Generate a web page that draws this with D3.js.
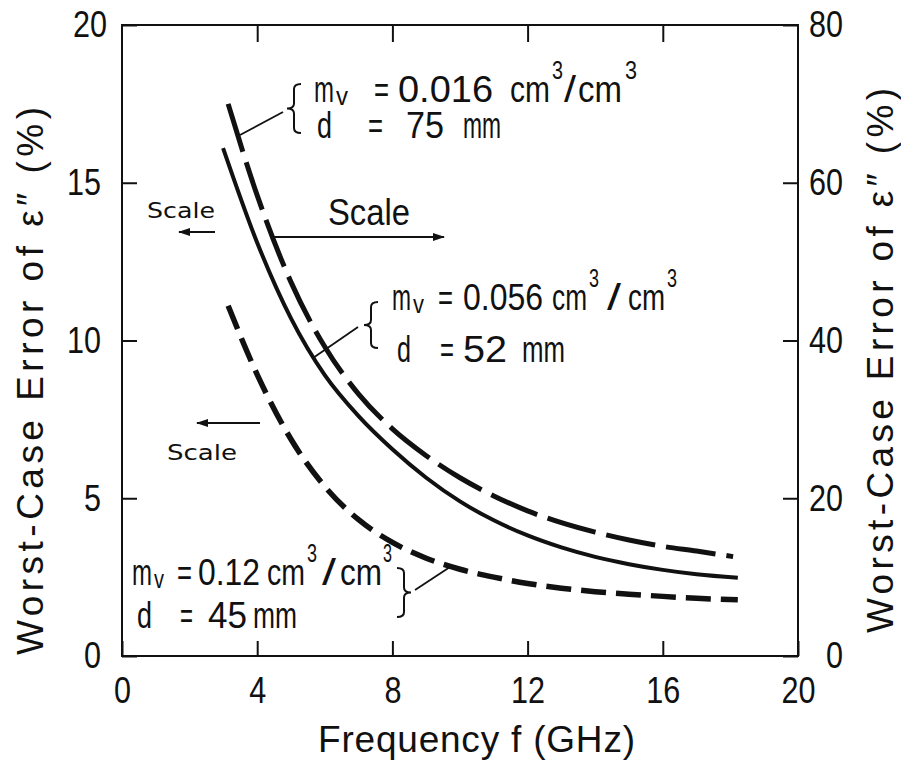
<!DOCTYPE html>
<html>
<head>
<meta charset="utf-8">
<script src="https://cdn.jsdelivr.net/npm/d3@7"></script>
<style>
  body { margin: 0; background: #fff; }
  svg text { font-family: "Liberation Sans", Arial, sans-serif; fill: #111; }
  svg text.small { font-family: "DejaVu Sans", sans-serif; }
</style>
</head>
<body>
<svg id="chart" width="901" height="765"></svg>
<script>
// values
// long dash: m_v = 0.016, d = 75 mm  (right scale, 0-80 %)
var freqLong = [3.14, 4, 5, 6, 7, 8, 9, 10, 11, 12, 13, 14, 15, 16, 17, 18.08]
var errLong  = [70.0, 58.4, 47.4, 39.2, 33.2, 28.8, 25.4, 22.6, 20.3, 18.4, 16.9, 15.7, 14.7, 13.9, 13.3, 12.6]
// solid: m_v = 0.056, d = 52 mm  (left scale, 0-20 %)
var freqSolid = [2.99, 4, 5, 6, 7, 8, 9, 10, 11, 12, 13, 14, 15, 16, 17, 18.22]
var errSolid  = [16.1, 13.1, 10.7, 8.9, 7.6, 6.55, 5.65, 4.9, 4.3, 3.82, 3.44, 3.14, 2.91, 2.73, 2.59, 2.48]
// short dash: m_v = 0.12, d = 45 mm  (left scale)
var freqShort = [3.14, 4, 5, 6, 7, 8, 9, 10, 11, 12, 13, 14, 15, 16, 17, 18.22]
var errShort  = [11.1, 8.92, 6.87, 5.37, 4.32, 3.6, 3.1, 2.75, 2.5, 2.3, 2.15, 2.04, 1.96, 1.89, 1.83, 1.78]

var xTicks = [0, 4, 8, 12, 16, 20]
var yLeftTicks = [0, 5, 10, 15, 20]
var yRightTicks = [0, 20, 40, 60, 80]

var plot = {left: 122, right: 798, top: 25, bottom: 656}
var fs = 37

var svg = d3.select('#chart')

var x = d3.scaleLinear().domain([0, 20]).range([plot.left, plot.right])
var yL = d3.scaleLinear().domain([0, 20]).range([plot.bottom, plot.top])
var yR = d3.scaleLinear().domain([0, 80]).range([plot.bottom, plot.top])

// frame
svg.append('rect')
   .attr('x', plot.left).attr('y', plot.top)
   .attr('width', plot.right - plot.left).attr('height', plot.bottom - plot.top)
   .style('fill', 'none').style('stroke', '#111').style('stroke-width', 2)

function styleAxis(g){
   g.select('.domain').remove()
   g.selectAll('line').style('stroke', '#111').style('stroke-width', 2)
   g.selectAll('text')
      .style('font-size', fs + 'px')
      .style('font-family', '"Liberation Sans", Arial, sans-serif')
      .style('fill', '#111')
      .attr('lengthAdjust', 'spacingAndGlyphs')
      .attr('textLength', function(d){ return String(d).length * 17 })
}

svg.append('g').attr('transform', 'translate(0,' + plot.bottom + ')')
   .call(d3.axisBottom(x).tickValues(xTicks).tickSizeInner(-15).tickSizeOuter(0).tickPadding(21))
   .call(styleAxis)

svg.append('g').attr('transform', 'translate(0,' + plot.top + ')')
   .call(d3.axisTop(x).tickValues(xTicks.slice(1, -1)).tickSizeInner(-17).tickSizeOuter(0).tickFormat(''))
   .call(function(g){
      g.select('.domain').remove()
      g.selectAll('line').style('stroke', '#111').style('stroke-width', 2)
      g.selectAll('text').remove()
   })

var gl = svg.append('g').attr('transform', 'translate(' + plot.left + ',0)')
   .call(d3.axisLeft(yL).tickValues(yLeftTicks).tickSizeInner(-15).tickSizeOuter(0).tickPadding(21))
   .call(styleAxis)
// the top label sits a little further right in the original
gl.selectAll('text').filter(function(d){ return d === 20 }).attr('x', -15)

var gr = svg.append('g').attr('transform', 'translate(' + plot.right + ',0)')
   .call(d3.axisRight(yR).tickValues(yRightTicks).tickSizeInner(-15).tickSizeOuter(0))
   .call(styleAxis)
gr.selectAll('text').attr('x', 45).attr('text-anchor', 'end')

// axis titles
var title = 'Worst-Case Error of \u03b5\u2033 (%)'
svg.append('text')
   .attr('transform', 'translate(43,655) rotate(-90)')
   .attr('textLength', 548).attr('lengthAdjust', 'spacing')
   .style('font-size', fs + 'px')
   .text(title)

svg.append('text')
   .attr('transform', 'translate(893,633) rotate(-90)')
   .attr('textLength', 545).attr('lengthAdjust', 'spacing')
   .style('font-size', fs + 'px')
   .text(title)

svg.append('text')
   .attr('x', 318).attr('y', 752)
   .attr('textLength', 317).attr('lengthAdjust', 'spacing')
   .style('font-size', fs + 'px')
   .text('Frequency f (GHz)')

// curves
var series = [
   {f: freqLong, e: errLong, y: yR, dash: '50,11', w: 5},
   {f: freqSolid, e: errSolid, y: yL, dash: null, w: 4},
   {f: freqShort, e: errShort, y: yL, dash: '25,10', w: 5.5}
]

series.forEach(function(s){
   var pts = s.f.map(function(f, i){ return [f, s.e[i]] })
   var line = d3.line()
      .x(function(d){ return x(d[0]) })
      .y(function(d){ return s.y(d[1]) })
      .curve(d3.curveMonotoneX)
   svg.append('path')
      .datum(pts)
      .attr('d', line)
      .style('fill', 'none')
      .style('stroke', '#111')
      .style('stroke-width', s.w)
      .style('stroke-dasharray', s.dash)
})

// arrows and leaders
svg.append('defs').append('marker')
   .attr('id', 'head').attr('viewBox', '0 0 12 8').attr('refX', 11).attr('refY', 4)
   .attr('markerWidth', 12).attr('markerHeight', 8).attr('markerUnits', 'userSpaceOnUse')
   .attr('orient', 'auto')
   .append('path').attr('d', 'M0,0 L12,4 L0,8 Z').style('fill', '#111')

function seg(x1, y1, x2, y2, arrow){
   var l = svg.append('line')
      .attr('x1', x1).attr('y1', y1).attr('x2', x2).attr('y2', y2)
      .style('stroke', '#111').style('stroke-width', 1.8)
   if (arrow) l.attr('marker-end', 'url(#head)')
}

seg(215, 232, 179, 232, true)
seg(272, 237, 444, 237, true)
seg(260, 423, 197, 423, true)

seg(240, 135, 283, 112)
seg(313, 358, 358, 327)
seg(415, 590, 450, 567)

// curly braces
function brace(xTip, xEdge, y0, y1){
   var ym = (y0 + y1) / 2, xm = (xTip + xEdge) / 2, r = 5
   var d = 'M' + xEdge + ',' + y0 + ' Q' + xm + ',' + y0 + ' ' + xm + ',' + (y0 + r) +
           ' L' + xm + ',' + (ym - r) + ' Q' + xm + ',' + ym + ' ' + xTip + ',' + ym +
           ' Q' + xm + ',' + ym + ' ' + xm + ',' + (ym + r) +
           ' L' + xm + ',' + (y1 - r) + ' Q' + xm + ',' + y1 + ' ' + xEdge + ',' + y1
   svg.append('path').attr('d', d)
      .style('fill', 'none').style('stroke', '#111').style('stroke-width', 2)
}
brace(287, 301, 84, 133)
brace(364, 378, 302, 348)
brace(411, 397, 568, 617)

// annotation lines: one text per line, pieces as [text, x, baseline shift, width, size]
function textLine(y0, parts){
   var t = svg.append('text').attr('y', y0).style('font-size', fs + 'px')
   parts.forEach(function(p){
      t.append('tspan')
         .attr('x', p[1]).attr('y', y0 + (p[2] || 0))
         .attr('textLength', p[3]).attr('lengthAdjust', 'spacingAndGlyphs')
         .style('font-size', (p[4] || fs) + 'px')
         .text(p[0])
   })
   return t
}

textLine(102, [['m', 314, 0, 20], ['v', 336, 3, 12, 26], ['=', 374, 0, 15], ['0.016', 398, 0, 95],
   ['cm', 510, 0, 40], ['3', 552, -23, 11, 25], ['/', 564, 0, 12], ['cm', 578, 0, 44], ['3', 625, -23, 12, 25]])
textLine(138, [['d', 317, 0, 15], ['=', 368, 0, 15], ['75', 406, 0, 38], ['mm', 463, 0, 38]])

textLine(310, [['m', 392, 0, 19], ['v', 413, 3, 11, 26], ['=', 438, 0, 15], ['0.056', 463, 0, 80],
   ['cm', 552, 0, 35], ['3', 589, -23, 10, 25], ['/', 607, 0, 14], ['cm', 628, 0, 37], ['3', 667, -23, 10, 25]])
textLine(362, [['d', 397, 0, 14], ['=', 440, 0, 14], ['52', 463, 0, 44], ['mm', 522, 0, 43]])

textLine(585, [['m', 132, 0, 20], ['v', 154, 3, 10, 26], ['=', 177, 0, 15], ['0.12', 198, 0, 62],
   ['cm', 267, 0, 38], ['3', 307, -23, 10, 25], ['/', 322, 0, 14], ['cm', 340, 0, 42], ['3', 383, -23, 9, 25]])
textLine(628, [['d', 137, 0, 15], ['=', 180, 0, 13], ['45', 208, 0, 39], ['mm', 253, 0, 44]])

svg.append('text').attr('x', 328).attr('y', 225)
   .attr('textLength', 82).attr('lengthAdjust', 'spacingAndGlyphs')
   .style('font-size', fs + 'px').text('Scale')

svg.append('text').attr('class', 'small').attr('x', 147).attr('y', 218)
   .attr('textLength', 68).attr('lengthAdjust', 'spacingAndGlyphs')
   .style('font-size', '21px').text('Scale')
svg.append('text').attr('class', 'small').attr('x', 167).attr('y', 460)
   .attr('textLength', 70).attr('lengthAdjust', 'spacingAndGlyphs')
   .style('font-size', '21px').text('Scale')
</script>
</body>
</html>
